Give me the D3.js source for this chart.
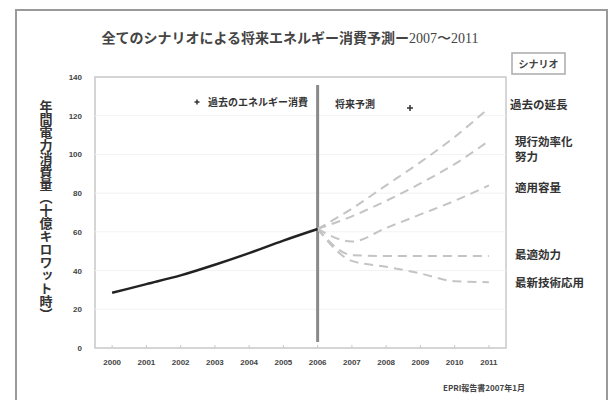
<!DOCTYPE html>
<html>
<head>
<meta charset="utf-8">
<script src="https://cdn.jsdelivr.net/npm/d3@7/dist/d3.min.js"></script>
<style>
  html, body { margin: 0; padding: 0; background: #fff; }
  svg { display: block; font-family: "Noto Sans CJK JP", "Noto Sans", sans-serif; }
</style>
</head>
<body>
<svg id="chart" width="610" height="400"></svg>
<script>
// Years on the horizontal axis
const years = ["2000","2001","2002","2003","2004","2005","2006","2007","2008","2009","2010","2011"];
// Historical consumption 2000–2006
const historyYears = ["2000","2001","2002","2003","2004","2005","2006"];
const historyValues = [28.5, 33, 37.5, 43, 49, 55.5, 61.5];
// Scenario projections 2006–2011
const forecastYears = ["2006","2007","2008","2009","2010","2011"];
const scenarioPast      = [61.5, 72, 84, 96, 109, 124];
const scenarioCurrent   = [61.5, 68, 76, 85, 95, 107];
const scenarioApplied   = [61.5, 55, 62, 69, 76, 84];
const scenarioOptimal   = [61.5, 48, 47.5, 47.5, 47.5, 47.5];
const scenarioAdvanced  = [61.5, 45, 42, 38.5, 34.5, 34];
const scenarioValues = [scenarioPast, scenarioCurrent, scenarioApplied, scenarioOptimal, scenarioAdvanced];
// Right-hand scenario labels (lines per label)
const scenarioLabelLines = [["過去の延長"], ["現行効率化", "努力"], ["適用容量"], ["最適効力"], ["最新技術応用"]];
const yTicks = [0, 20, 40, 60, 80, 100, 120, 140];

const svg = d3.select("#chart");
const plot = { left: 95, right: 506, top: 77, bottom: 348 };

// outer frame
svg.append("rect").attr("x", 16).attr("y", 10).attr("width", 591).attr("height", 400)
  .attr("fill", "none").attr("stroke", "#9a9a9a").attr("stroke-width", 2);

// title: Japanese text followed by the year range in a serif face
const title = svg.append("text").attr("x", 290).attr("y", 43).attr("text-anchor", "middle")
  .attr("font-size", 14).attr("font-weight", "bold").attr("fill", "#444");
title.append("tspan").text("全てのシナリオによる将来エネルギー消費予測ー");
title.append("tspan").attr("font-family", "Liberation Serif").attr("font-weight", "normal")
  .attr("font-size", 14).text("2007〜2011");

const x = d3.scaleBand().domain(years).range([plot.left, plot.right]);
const xc = d => x(d) + x.bandwidth() / 2;
const y = d3.scaleLinear().domain([0, 140]).range([plot.bottom, plot.top]);

// plot frame
svg.append("rect").attr("x", plot.left).attr("y", plot.top)
  .attr("width", plot.right - plot.left).attr("height", plot.bottom - plot.top)
  .attr("fill", "#fff").attr("stroke", "#c8c8c8").attr("stroke-width", 1.5);

// faint horizontal gridlines
svg.append("g").selectAll("line").data(yTicks.slice(1, -1)).join("line")
  .attr("x1", plot.left).attr("x2", plot.right)
  .attr("y1", d => y(d)).attr("y2", d => y(d))
  .attr("stroke", "#f2f2f2").attr("stroke-width", 1);

// y axis labels
const yAxis = d3.axisLeft(y).tickValues(yTicks).tickSize(0).tickPadding(13);
const gy = svg.append("g").attr("transform", `translate(${plot.left},0)`).call(yAxis);
gy.select(".domain").remove();
gy.selectAll("text").attr("font-size", 8).attr("font-weight", "bold").attr("fill", "#444");

// x axis labels and ticks
const xAxis = d3.axisBottom(x).tickSize(3).tickPadding(8);
const gx = svg.append("g").attr("transform", `translate(0,${plot.bottom})`).call(xAxis);
gx.select(".domain").remove();
gx.selectAll("line").attr("stroke", "#c8c8c8").attr("transform", "translate(0,-3)");
gx.selectAll("text").attr("font-size", 8).attr("font-weight", "bold").attr("fill", "#444");

// vertical axis title, written top to bottom
svg.append("text").attr("x", 46).attr("y", 100)
  .attr("font-size", 13).attr("font-weight", "bold").attr("fill", "#333")
  .style("writing-mode", "vertical-rl").style("text-orientation", "upright")
  .text("年間電力消費量（十億キロワット時）");

// divider at 2006
svg.append("line").attr("x1", xc("2006")).attr("x2", xc("2006"))
  .attr("y1", plot.top + 8).attr("y2", plot.bottom - 6)
  .attr("stroke", "#8a8a8a").attr("stroke-width", 3);

const line = d3.line().x(d => xc(d[0])).y(d => y(d[1])).curve(d3.curveMonotoneX);

// scenario projections
scenarioValues.forEach(vals => {
  svg.append("path").datum(forecastYears.map((yr, i) => [yr, vals[i]]))
    .attr("d", line).attr("fill", "none")
    .attr("stroke", "#c4c4c4").attr("stroke-width", 2).attr("stroke-dasharray", "9,6");
});

// historical consumption
svg.append("path").datum(historyYears.map((yr, i) => [yr, historyValues[i]]))
  .attr("d", line).attr("fill", "none")
  .attr("stroke", "#222").attr("stroke-width", 2.5);

// in-plot legend
const plus = (cx, cy, s) => {
  svg.append("path").attr("d", `M${cx - s},${cy}H${cx + s}M${cx},${cy - s}V${cy + s}`)
    .attr("stroke", "#333").attr("stroke-width", 1.5);
};
plus(197, 102, 2.5);
svg.append("text").attr("x", 208).attr("y", 106).attr("font-size", 10).attr("font-weight", "bold")
  .attr("fill", "#333").text("過去のエネルギー消費");
svg.append("text").attr("x", 335).attr("y", 108).attr("font-size", 10).attr("font-weight", "bold")
  .attr("fill", "#333").text("将来予測");
plus(410, 108, 3);

// scenario legend title box
svg.append("rect").attr("x", 512).attr("y", 53).attr("width", 53).attr("height", 21)
  .attr("fill", "#fff").attr("stroke", "#aaa").attr("stroke-width", 1.5);
svg.append("text").attr("x", 538.5).attr("y", 68).attr("text-anchor", "middle")
  .attr("font-size", 10).attr("font-weight", "bold").attr("fill", "#444").text("シナリオ");

// scenario labels on the right
const labelY = [105, 142, 188, 255, 283];
scenarioLabelLines.forEach((lines, i) => {
  const lx = i === 0 ? 510 : 515;
  const t = svg.append("text").attr("x", lx).attr("y", labelY[i] + 4)
    .attr("font-size", 11.5).attr("font-weight", "bold").attr("fill", "#333");
  lines.forEach((ln, j) => t.append("tspan").attr("x", lx).attr("dy", j ? 15 : 0).text(ln));
});

// source note
svg.append("text").attr("x", 443).attr("y", 391).attr("font-size", 8).attr("font-weight", "bold")
  .attr("fill", "#444").text("EPRI報告書2007年1月");
</script>
</body>
</html>
